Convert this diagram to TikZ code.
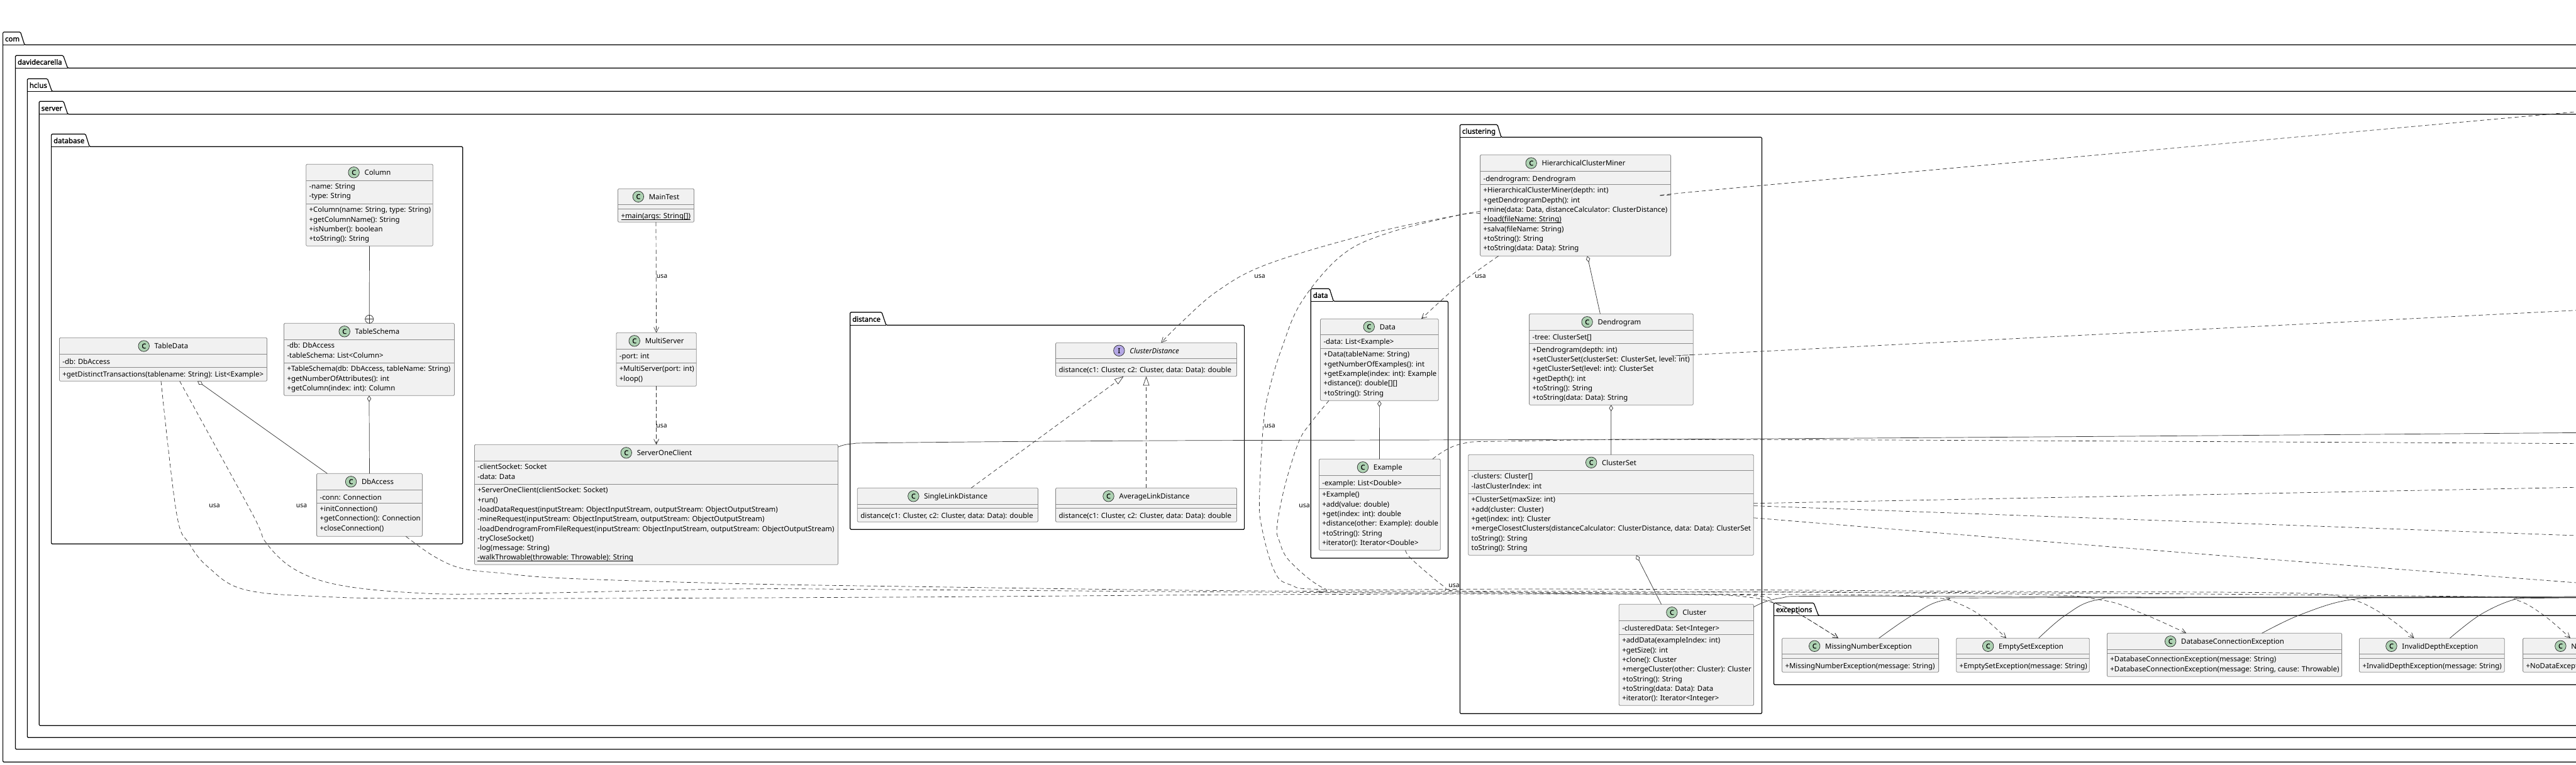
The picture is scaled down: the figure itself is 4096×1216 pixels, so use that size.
\documentclass[tikz,border=0pt]{standalone}
\usepackage{fontspec}
\setmainfont{Noto Sans}[BoldFont={Noto Sans},BoldFeatures={FakeBold=1.6}]
\usetikzlibrary{arrows.meta,calc}
\definecolor{umlfill}{HTML}{F1F1F1}
\definecolor{umlline}{HTML}{8A8A8A}
\definecolor{conn}{HTML}{303030}
\definecolor{iconC}{HTML}{ADD1B2}
\definecolor{iconI}{HTML}{B4A7E5}
\newcommand{\umlfont}{\fontsize{11.4pt}{15.27pt}\selectfont}
\tikzset{
  pkgline/.style={draw=black,line width=1.2pt,rounded corners=1.5pt},
  pkglabel/.style={inner sep=0pt,outer sep=0pt,anchor=base west,font=\umlfont\bfseries},
  classbox/.style={draw=umlline,fill=umlfill,line width=.8pt,rounded corners=1.5pt,inner sep=0pt,outer sep=0pt,rectangle},
  sepline/.style={draw=umlline,line width=.8pt},
  ctitle/.style={inner sep=0pt,outer sep=0pt,anchor=base,font=\umlfont},
  members/.style={inner sep=0pt,outer sep=0pt,anchor=north west,align=left,font=\umlfont,execute at begin node=\strut},
  iconmark/.style={circle,draw=black!85,line width=.7pt,inner sep=0pt,minimum size=17.5pt,font=\fontsize{10.5pt}{12pt}\selectfont\bfseries},
  solidconn/.style={draw=conn,line width=.7pt},
  dep/.style={draw=conn,line width=.7pt,dash pattern=on 6.5pt off 4.5pt},
  deparrow/.style={dep,arrows={-Straight Barb[length=8pt,width=8pt]}},
  aggr/.style={solidconn,arrows={Diamond[open,length=10pt,width=6.5pt,fill=white]-}},
  realiz/.style={dep,arrows={-Triangle[open,length=14.6pt,width=10pt,fill=white]}},
  lbl/.style={inner sep=0pt,outer sep=0pt,font=\fontsize{10.4pt}{12pt}\selectfont},
  nestmark/.style={circle,draw=conn,line width=.7pt,inner sep=0pt,minimum size=13pt},
  smth/.style={smooth,tension=.6},
}
\newsavebox{\ubox}
\newcommand{\stat}[1]{\sbox{\ubox}{#1}\rlap{\rule[-1.8pt]{\wd\ubox}{.7pt}}\usebox{\ubox}}
\def\geoparse#1,#2,#3,#4,#5,#6;{\def\xa{#1}\def\ya{#2}\def\xb{#3}\def\yb{#4}\def\sa{#5}\def\sb{#6}}
% id, geometry, icon letter, title, attributes, methods
\newcommand{\cls}[6]{%
  \geoparse#2;%
  \node[classbox,minimum width={(\xb-\xa)*1pt},minimum height={(\yb-\ya)*1pt}] (#1) at ({(\xa+\xb)/2},{(\ya+\yb)/2}) {};
  \draw[sepline] (\xa,\sa) -- (\xb,\sa);
  \draw[sepline] (\xa,\sb) -- (\xb,\sb);
  \node[ctitle] (#1-t) at ({(\xa+\xb)/2},{(\ya+\sa)/2+4.2}) {\hspace*{26pt}#4};
  \node[iconmark,fill=icon#3] (#1-c) at ($(#1-t.base west)+(9pt,4.2pt)$) {#3};
  \if\relax\detokenize{#5}\relax\else
    \node[members] (#1-a) at ({\xa+5},{\sa+5}) {#5};
  \fi
  \if\relax\detokenize{#6}\relax\else
    \node[members] (#1-m) at ({\xa+5},{\sb+5}) {#6};
  \fi
}
\def\pkgparse#1,#2,#3,#4,#5,#6,#7;{\def\xa{#1}\def\ya{#2}\def\yl{#3}\def\yb{#4}\def\xb{#5}\def\tra{#6}\def\trb{#7}}
\newcommand{\pkg}[3]{%
  \pkgparse#3;%
  \draw[pkgline] (\xa,\yb) -- (\xa,\ya) -- (\tra,\ya) -- (\trb,\yl) -- (\xb,\yl) -- (\xb,\yb) -- cycle;
  \draw[pkgline] (\xa,\yl) -- (\trb,\yl);
  \node[pkglabel] (#1) at ({\xa+3.5},{\yl-5.5}) {#2};
}
\begin{document}
\begin{tikzpicture}[x=1pt,y=-1pt]
\clip (0,0) rectangle (4096,1216);
% ---------- packages
\pkg{pcom}{com}{4.6,51,71.3,1212.3,4120,32.6,39}
\pkg{pdav}{davidecarella}{24.5,88.3,108.3,1192,4120,100.5,107.6}
\pkg{phcl}{hclus}{43.4,125.3,145.3,1173.3,4120,75.5,82.6}
\pkg{pser}{server}{62.2,161.3,181.7,1154.3,4120,101,107.7}
\pkg{pdb}{database}{81.6,213.3,233.3,865.3,735.7,136,142.3}
\pkg{pdist}{distance}{1351.7,496.7,517.3,842.3,1978.6,1402,1409}
\pkg{pdata}{data}{2084.2,459.3,479.3,888,2302.6,2114,2120.4}
\pkg{pclu}{clustering}{2321.4,198.3,218.3,1135.3,2801.4,2381,2387}
\pkg{pexc}{exceptions}{2820.5,959.3,979.3,1089.3,4120,2884,2891.5}
% ---------- classes
\cls{column}{486.7,261.3,688.3,391.3,287.3,324.3}{C}{Column}{-name: String\\-type: String}{+Column(name: String, type: String)\\+getColumnName(): String\\+isNumber(): boolean\\+toString(): String}
\cls{tschema}{451.5,514.3,722.4,629.3,540.3,577.3}{C}{TableSchema}{-db: DbAccess\\-tableSchema: List<Column>}{+TableSchema(db: DbAccess, tableName: String)\\+getNumberOfAttributes(): int\\+getColumn(index: int): Column}
\cls{tdata}{94.4,537.3,424.5,606.3,563.7,584.3}{C}{TableData}{-db: DbAccess}{+getDistinctTransactions(tablename: String): List<Example>}
\cls{dbacc}{503.6,753.3,671.4,853.3,779.3,800.3}{C}{DbAccess}{-conn: Connection}{+initConnection()\\+getConnection(): Connection\\+closeConnection()}
\cls{maintest}{982.5,300.3,1103.5,353.3,325.3,332.3}{C}{MainTest}{}{\stat{+main(args: String[])}}
\cls{mserver}{979.9,529.3,1107.3,614.3,555.3,577.3}{C}{MultiServer}{-port: int}{+MultiServer(port: int)\\+loop()}
\cls{soc}{754.4,707.3,1332.5,898.3,733.3,770.3}{C}{ServerOneClient}{-clientSocket: Socket\\-data: Data}{+ServerOneClient(clientSocket: Socket)\\+run()\\-loadDataRequest(inputStream: ObjectInputStream, outputStream: ObjectOutputStream)\\-mineRequest(inputStream: ObjectInputStream, outputStream: ObjectOutputStream)\\-loadDendrogramFromFileRequest(inputStream: ObjectInputStream, outputStream: ObjectOutputStream)\\-tryCloseSocket()\\-log(message: String)\\\stat{-walkThrowable(throwable: Throwable): String}}
\cls{cdist}{1678.6,545.3,1966.5,598.7,570.3,577.3}{I}{\itshape ClusterDistance}{}{distance(c1: Cluster, c2: Cluster, data: Data): double}
\cls{avgd}{1678.6,776.3,1966.5,830.3,802.3,808.3}{C}{AverageLinkDistance}{}{distance(c1: Cluster, c2: Cluster, data: Data): double}
\cls{sngd}{1363.3,776.3,1650.4,830.3,802.3,808.3}{C}{SingleLinkDistance}{}{distance(c1: Cluster, c2: Cluster, data: Data): double}
\cls{dataC}{2099.5,507.3,2287.2,637.3,532.3,554.3}{C}{Data}{-data: List<Example>}{+Data(tableName: String)\\+getNumberOfExamples(): int\\+getExample(index: int): Example\\+distance(): double[][]\\+toString(): String}
\cls{example}{2097.4,730.3,2290.3,875.3,756.3,777.3}{C}{Example}{-example: List<Double>}{+Example()\\+add(value: double)\\+get(index: int): double\\+distance(other: Example): double\\+toString(): String\\+iterator(): Iterator<Double>}
\cls{hcm}{2353.6,246.3,2656.6,407.3,272.7,293.3}{C}{HierarchicalClusterMiner}{-dendrogram: Dendrogram}{+HierarchicalClusterMiner(depth: int)\\+getDendrogramDepth(): int\\+mine(data: Data, distanceCalculator: ClusterDistance)\\\stat{+load(fileName: String)}\\+salva(fileName: String)\\+toString(): String\\+toString(data: Data): String}
\cls{dendro}{2431.6,499.3,2692.3,644.3,525.3,546.7}{C}{Dendrogram}{-tree: ClusterSet[]}{+Dendrogram(depth: int)\\+setClusterSet(clusterSet: ClusterSet, level: int)\\+getClusterSet(level: int): ClusterSet\\+getDepth(): int\\+toString(): String\\+toString(data: Data): String}
\cls{cset}{2334.7,723.3,2788.3,883.3,748.3,785.3}{C}{ClusterSet}{-clusters: Cluster[]\\-lastClusterIndex: int}{+ClusterSet(maxSize: int)\\+add(cluster: Cluster)\\+get(index: int): Cluster\\+mergeClosestClusters(distanceCalculator: ClusterDistance, data: Data): ClusterSet\\toString(): String\\toString(): String}
\cls{cluster}{2574.3,961.3,2788.4,1122.3,987.3,1009.3}{C}{Cluster}{-clusteredData: Set<Integer>}{+addData(exampleIndex: int)\\+getSize(): int\\+clone(): Cluster\\+mergeCluster(other: Cluster): Cluster\\+toString(): String\\+toString(data: Data): Data\\+iterator(): Iterator<Integer>}
\cls{exmiss}{2833.5,1015.3,3082.6,1069.3,1040.3,1047.3}{C}{MissingNumberException}{}{+MissingNumberException(message: String)}
\cls{exempty}{3110.7,1015.3,3322.3,1069.3,1040.3,1047.3}{C}{EmptySetException}{}{+EmptySetException(message: String)}
\cls{exdb}{3350.4,1007.3,3723.6,1076.3,1033.3,1039.3}{C}{DatabaseConnectionException}{}{+DatabaseConnectionException(message: String)\\+DatabaseConnectionException(message: String, cause: Throwable)}
\cls{exdepth}{3751.5,1015.3,3982.3,1069.3,1040.3,1047.3}{C}{InvalidDepthException}{}{+InvalidDepthException(message: String)}
\cls{exnodata}{4011.6,1015.3,4232,1069.3,1040.3,1047.3}{C}{NoDataException}{}{+NoDataException(message: String)}
% ---------- free ends beyond the right edge
\coordinate (xa) at (4110,176.6);
\coordinate (xb) at (4110,493);
\coordinate (xc) at (4110,688.3);
\coordinate (xd) at (4110,705.7);
\coordinate (xe) at (4110,775);
\coordinate (xf) at (4110,852.5);
\coordinate (xg) at (4110,928);
\coordinate (xh) at (4110,949);
\coordinate (xi) at (4110,950);
\coordinate (xj) at (4110,950.5);
\coordinate (xk) at (4110,951);
% ---------- solid relations
\node[nestmark] (nest) at (587.2,507.8) {};
\draw[solidconn] (nest.north) -- (nest.south) (nest.west) -- (nest.east);
\draw[solidconn] (column.south) -- (nest.north);
\draw[aggr] (tschema.south) -- (dbacc.north);
\draw[aggr] ([xshift=219.6pt]tdata.south west) -- ([xshift=16.8pt]dbacc.north west);
\draw[aggr] ([xshift=170.4pt]hcm.south west) -- ([xshift=112.8pt]dendro.north west);
\draw[aggr] ([xshift=130.1pt]dendro.south west) -- ([xshift=227pt]cset.north west);
\draw[aggr] ([xshift=267.1pt]cset.south west) -- ([xshift=67.3pt]cluster.north west);
\draw[aggr] (dataC.south) -- ([xshift=96pt]example.north west);
\draw[solidconn] plot[smth] coordinates {([yshift=-4pt]soc.north east) (1354,706) (1420,704.3) (1846,701) (2800,698) (xc)};
\draw[solidconn] plot[smth] coordinates {([yshift=-4.4pt]cluster.north east) (2829.5,951.7) (2923,948.3) (3500,950) (xh)};
\draw[solidconn] plot[smth] coordinates {([xshift=154pt]exmiss.north west) (3041.5,978.3) (3095,954) (3200,951) (xi)};
\draw[solidconn] plot[smth] coordinates {([xshift=130.8pt]exempty.north west) (3284.8,978.3) (3336,954) (3440,951) (xj)};
\draw[solidconn] plot[smth] coordinates {([xshift=246.2pt]exdb.north west) (3657.4,978) (3737.3,954) (3840,951) (xj)};
\draw[solidconn] plot[smth] coordinates {([xshift=143.8pt]exdepth.north west) (3943.7,978) (3997,954) (4040,951.5) (xk)};
% ---------- dependencies
\draw[deparrow] ([xshift=60.5pt]maintest.south west) -- ([xshift=63.7pt]mserver.north west);
\draw[deparrow] ([xshift=63.7pt]mserver.south west) -- ([xshift=289.2pt]soc.north west);
\draw[realiz] (avgd.north) -- (cdist.south);
\draw[realiz] ([xshift=180.9pt]sngd.north west) -- ([xshift=108pt]cdist.south west);
\draw[deparrow] plot[smth] coordinates {([yshift=-90.4pt]hcm.north west) (2321,341.7) (2178.6,371.7) (2016,420) (1935.7,463) (1874.5,516.7) ([xshift=167.8pt]cdist.north west)};
\draw[deparrow] plot[smth] coordinates {([xshift=29pt]hcm.south west) (2321.4,451.7) ([xshift=160.5pt]dataC.north west)};
\draw[dep] plot[smth] coordinates {([yshift=-63.7pt]hcm.north east) (2801.5,295) (xa)};
\draw[dep] plot[smth] coordinates {([yshift=-65pt]dendro.north east) (2800,559) (xb)};
\draw[dep] plot[smth] coordinates {([xshift=180.6pt]example.north west) (2321.4,706.7) (2408,701.7) (2800,699.3) (xd)};
\draw[dep] plot[smth] coordinates {([yshift=-77.5pt]cset.north east) (xe)};
\draw[dep] plot[smth] coordinates {([yshift=-81.3pt]cset.north east) (xf)};
\draw[dep] plot[smth] coordinates {([yshift=-100.5pt]cset.north east) (3483,880) (xg)};
% dependencies running through the band
\draw[deparrow] plot[smth] coordinates {([xshift=161.6pt]tdata.south west) (280.6,816) (301,865) (331.6,902.7) (387.8,937.7) (510,949) (722,952.3) (1420,950) (2000,946) (2600,945) (3000,947) (3057,950.7) (3097,954) (3146,976.7) ([xshift=79.3pt]exempty.north west)};
\draw[deparrow] plot[smth] coordinates {([xshift=191.3pt]tdata.south west) (400.5,816) (423.5,864) (469,906) (540.8,931) (663,943.3) (800,944.5) (1166,937) (1420,938) (2000,942) (2400,944) (2700,946) (2780,950) (2820.5,959.3) (2860.7,976.7) ([xshift=89.5pt]exmiss.north west)};
\draw[deparrow] plot[smth] coordinates {([xshift=141.8pt]dbacc.south west) (690,885) (734.7,904.3) (800,912) (898.6,920) (1166,928.3) (1420,932.7) (2000,940) (2600,941) (3200,945) (3338,954) (3404,975) ([xshift=125.9pt]exdb.north west)};
\draw[deparrow] plot[smth] coordinates {([xshift=13.5pt]dataC.south west) (2084,673) (2065,703) (2043,773) (2030.6,836.7) (2034,860) (2051,893) (2107,936.7) (2170,943) (3000,942) (3932.6,949) (3999,954) (4043.6,978) ([xshift=75.4pt]exnodata.north west)};
\draw[deparrow] plot[smth] coordinates {([yshift=-93.7pt]hcm.north west) (2321,342) (2204,371.7) (2132.7,406.7) (2069.6,480) (2038.4,553) (2018,620) (2009,673) (2002.7,786.7) (2005.8,836.7) (2025.5,906.7) (2051,930) (2122,938) (2500,937) (3200,941) (3622,943) (3728.5,950.7) (3790.6,978) ([xshift=87pt]exdepth.north west)};
\draw[deparrow] plot[smth] coordinates {([xshift=137.3pt]example.south west) (2245,890) (2296,933) (2316,940) (2500,944) (2780,947) (2820.5,959.3) (2860.7,976.7) ([xshift=89.5pt]exmiss.north west)};
% ---------- labels
\node[lbl] (u1) at (341,804.3) {usa};
\node[lbl] (u2) at (479.6,804.3) {usa};
\node[lbl] (u3) at (1052.6,439.3) {usa};
\node[lbl] (u4) at (1052,677.3) {usa};
\node[lbl] (u5) at (2003,439.5) {usa};
\node[lbl] (u6) at (2354,439.3) {usa};
\node[lbl] (u7) at (2019,677.3) {usa};
\node[lbl] (u8) at (2074,804.3) {usa};
\node[lbl] (u9) at (2312,931.7) {usa};
\end{tikzpicture}
\end{document}
